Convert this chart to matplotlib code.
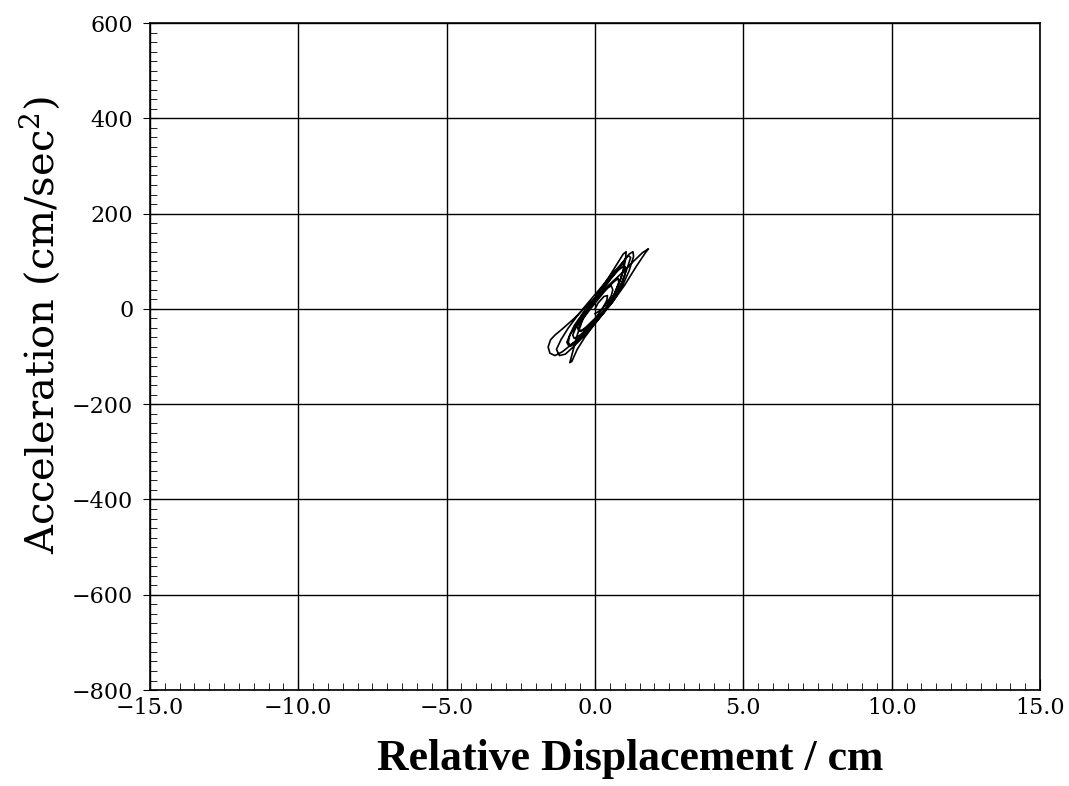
import matplotlib.pyplot as plt
from matplotlib.ticker import MultipleLocator, FuncFormatter

plt.rcParams['mathtext.fontset'] = 'dejavuserif'

# Hysteresis trace (cm, cm/sec^2), one line per cycle
desplazamiento = [
    0.0, 0.2, 0.4, 0.55, 0.6, 0.55, 0.4, 0.2, 0.0, -0.2, -0.4, -0.55, -0.6, -0.55, -0.4, -0.2, 0.0,
    0.3, 0.6, 0.85, 1.0, 1.05, 0.98, 0.8, 0.5, 0.2, -0.1, -0.4, -0.7, -0.85, -0.9, -0.82, -0.6, -0.3, 0.0,
    0.3, 0.6, 0.9, 1.15, 1.3, 1.28, 1.15, 0.9, 0.6, 0.3, 0.0, -0.3, -0.6, -0.9, -1.15, -1.3, -1.2, -1.0,
    -0.7, -0.4, -0.1,
    0.2, 0.6, 1.0, 1.4, 1.7, 1.8, 1.6, 1.3, 0.9, 0.5, 0.1, -0.3, -0.7, -1.1, -1.35, -1.5, -1.58, -1.52,
    -1.35, -1.1, -0.8, -0.5, -0.2, 0.1,
    0.4, 0.7, 0.9, 1.02, 1.05, 0.95, 0.75, 0.5, 0.2, -0.1, -0.4, -0.6, -0.75, -0.85, -0.78, -0.6, -0.35, -0.05,
    0.3, 0.6, 0.9, 1.1, 1.2, 1.12, 0.9, 0.6, 0.3, 0.0, -0.3, -0.6, -0.85, -0.95, -0.88, -0.65, -0.35, -0.05,
    0.3, 0.6, 0.85, 1.0, 0.97, 0.8, 0.5, 0.2, -0.1, -0.4, -0.65, -0.75, -0.7, -0.5, -0.2, 0.1,
    0.4, 0.65, 0.8, 0.78, 0.6, 0.3, 0.0, -0.3, -0.5, -0.55, -0.48, -0.3, 0.0, 0.25, 0.4, 0.42, 0.3, 0.1, 0.0,
]
aceleracion = [
    -10, -2, 12, 28, 40, 48, 45, 32, 18, 5, -10, -25, -38, -46, -45, -35, -22,
    -5, 18, 45, 70, 85, 90, 82, 62, 38, 15, -8, -35, -55, -70, -78, -70, -52, -30,
    -8, 15, 45, 80, 110, 120, 115, 95, 75, 52, 30, 8, -15, -40, -65, -85, -98, -95,
    -78, -58, -35,
    -15, 15, 50, 90, 118, 126, 118, 100, 75, 52, 28, 5, -20, -42, -55, -65, -80, -93,
    -98, -90, -75, -60, -42, -22,
    5, 35, 70, 100, 120, 115, 95, 70, 42, 12, -20, -55, -90, -113, -110, -85, -60, -35,
    -8, 20, 55, 88, 108, 112, 95, 72, 48, 22, -5, -32, -55, -70, -78, -68, -50, -30,
    -5, 25, 60, 88, 96, 85, 60, 35, 10, -15, -40, -55, -62, -55, -38, -18,
    5, 30, 55, 64, 55, 35, 12, -12, -30, -42, -47, -38, -20, 0, 18, 28, 26, 12, 0,
]

x_lim = (-15, 15)
y_lim = (-800, 600)


def fmt_x(v, pos):
    return f'{v:.1f}'.replace('-', '\u2212')


fig = plt.figure(figsize=(10.69, 7.86), dpi=100)
ax = fig.add_axes([0.1403, 0.1221, 0.8326, 0.8486])

ax.plot(desplazamiento, aceleracion, color='black', linewidth=1.2)

ax.set_xlim(*x_lim)
ax.set_ylim(*y_lim)
ax.xaxis.set_major_locator(MultipleLocator(5))
ax.xaxis.set_minor_locator(MultipleLocator(0.5))
ax.yaxis.set_major_locator(MultipleLocator(200))
ax.yaxis.set_minor_locator(MultipleLocator(20))
ax.xaxis.set_major_formatter(FuncFormatter(fmt_x))

ax.grid(True, which='major', color='black', linewidth=1.0)
ax.tick_params(which='both', direction='in', colors='black')
ax.tick_params(axis='y', which='major', direction='inout', length=10)
ax.tick_params(axis='y', which='minor', length=5)
ax.tick_params(axis='x', which='major', length=8)
ax.tick_params(axis='x', which='minor', length=5)
for lab in ax.get_xticklabels() + ax.get_yticklabels():
    lab.set_fontfamily('DejaVu Serif')
    lab.set_fontsize(16)
ax.tick_params(axis='x', pad=5)
ax.tick_params(axis='y', pad=7)

for s in ax.spines.values():
    s.set_linewidth(1.2)

ax.set_xlabel('Relative Displacement / cm', fontsize=31.5, family='Liberation Serif',
              fontweight='bold')
ax.set_ylabel('Acceleration (cm/sec$^2$)', fontsize=28.8, family='DejaVu Serif')
ax.xaxis.set_label_coords(0.539, -0.074)
ax.yaxis.set_label_coords(-0.099, 0.547)

plt.savefig('out.png', dpi=100)
